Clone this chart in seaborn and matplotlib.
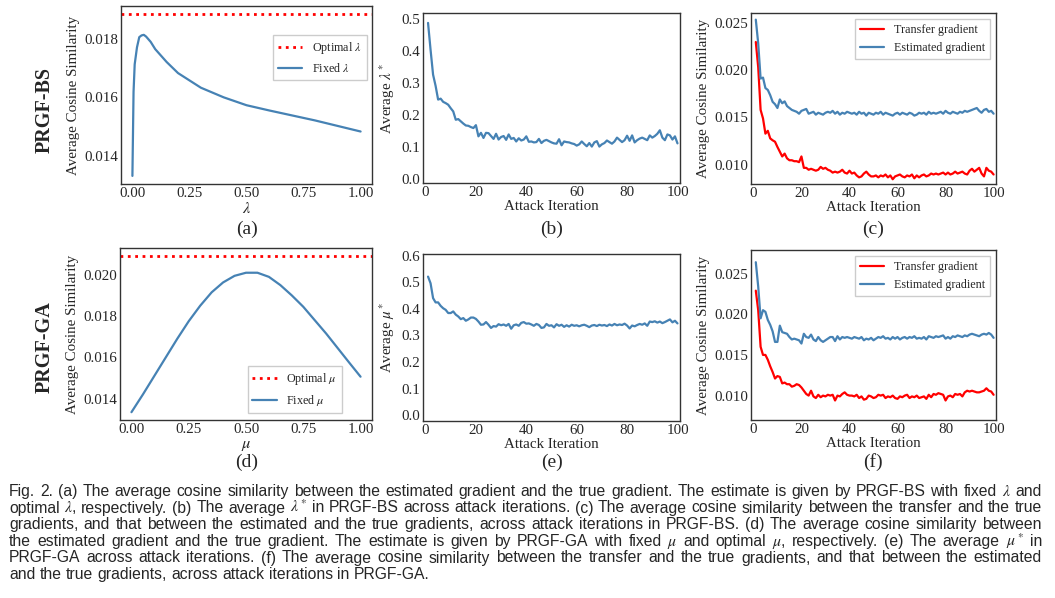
import numpy as np
import pandas as pd
import matplotlib
matplotlib.use("Agg")
import matplotlib.pyplot as plt
import seaborn as sns
from matplotlib.ticker import MultipleLocator, FormatStrFormatter

# ---- data ----
lam = [0.0, 0.005, 0.01, 0.02, 0.03, 0.04, 0.05, 0.06, 0.08, 0.1,
       0.15, 0.2, 0.3, 0.4, 0.5, 0.6, 0.7, 0.8, 0.9, 1.0]
sim_fixed_lam = [0.01331, 0.01619, 0.01713, 0.01771, 0.01806, 0.01812, 0.01814, 0.01808, 0.01790, 0.01765,
                 0.01721, 0.01683, 0.01633, 0.01600, 0.01573, 0.01555, 0.01538, 0.01521, 0.01502, 0.01483]
sim_opt_lam = 0.01885

mu = [0.0, 0.05, 0.1, 0.15, 0.2, 0.25, 0.3, 0.35, 0.4, 0.45, 0.5,
      0.55, 0.6, 0.65, 0.7, 0.75, 0.8, 0.85, 0.9, 0.95, 1.0]
sim_fixed_mu = [0.01334, 0.01420, 0.01510, 0.01600, 0.01690, 0.01775, 0.01850, 0.01915, 0.01963, 0.01995, 0.02010,
                0.02010, 0.01990, 0.01950, 0.01900, 0.01845, 0.01780, 0.01715, 0.01645, 0.01575, 0.01506]
sim_opt_mu = 0.02092

iters = list(range(1, 101))

lam_star = [0.487, 0.403, 0.325, 0.290, 0.247, 0.250, 0.240, 0.236, 0.231, 0.220,
            0.210, 0.184, 0.186, 0.179, 0.172, 0.166, 0.165, 0.161, 0.158, 0.167,
            0.132, 0.143, 0.127, 0.143, 0.142, 0.133, 0.124, 0.140, 0.122, 0.130,
            0.133, 0.121, 0.138, 0.124, 0.127, 0.116, 0.126, 0.119, 0.122, 0.132,
            0.115, 0.116, 0.113, 0.114, 0.124, 0.111, 0.118, 0.121, 0.117, 0.113,
            0.110, 0.109, 0.123, 0.104, 0.116, 0.114, 0.113, 0.110, 0.108, 0.103,
            0.107, 0.116, 0.108, 0.101, 0.111, 0.100, 0.113, 0.117, 0.100, 0.107,
            0.111, 0.119, 0.114, 0.109, 0.116, 0.128, 0.121, 0.114, 0.120, 0.134,
            0.118, 0.135, 0.113, 0.120, 0.125, 0.128, 0.124, 0.120, 0.135, 0.128,
            0.133, 0.140, 0.151, 0.128, 0.120, 0.138, 0.135, 0.122, 0.132, 0.110]

bs_transfer = [0.02295, 0.0203, 0.0158, 0.0149, 0.0133, 0.0136, 0.0128, 0.0126, 0.01245, 0.0119,
               0.0114, 0.0109, 0.0112, 0.0107, 0.0105, 0.0105, 0.0104, 0.0104, 0.0103, 0.0109,
               0.0097, 0.0097, 0.0095, 0.0096, 0.0095, 0.0094, 0.0095, 0.0098, 0.0096, 0.0097,
               0.0095, 0.0094, 0.0092, 0.0093, 0.0092, 0.0093, 0.0095, 0.0092, 0.0091, 0.0094,
               0.0091, 0.0092, 0.0089, 0.0087, 0.0088, 0.0091, 0.0093, 0.0090, 0.0088, 0.0088,
               0.0089, 0.0087, 0.0089, 0.0088, 0.0090, 0.0087, 0.0089, 0.0085, 0.0088, 0.0089,
               0.0090, 0.0088, 0.0087, 0.0089, 0.0088, 0.0090, 0.0086, 0.0089, 0.0087, 0.0089,
               0.0090, 0.0088, 0.0089, 0.0091, 0.0090, 0.0091, 0.0090, 0.0091, 0.0092, 0.0090,
               0.0092, 0.0090, 0.0091, 0.0093, 0.0091, 0.0092, 0.0093, 0.0091, 0.0090, 0.0094,
               0.0096, 0.0093, 0.0095, 0.0097, 0.0091, 0.0088, 0.0097, 0.0094, 0.0093, 0.0090]
bs_estimated = [0.0253, 0.0228, 0.0191, 0.0192, 0.0181, 0.0179, 0.01735, 0.01665, 0.0164, 0.0160,
                0.0169, 0.0165, 0.0167, 0.0162, 0.0160, 0.0158, 0.0157, 0.0156, 0.0154, 0.0157,
                0.0158, 0.0159, 0.0154, 0.0155, 0.0156, 0.0153, 0.0155, 0.0154, 0.0153, 0.0155,
                0.0156, 0.0155, 0.0157, 0.0154, 0.0156, 0.0153, 0.0155, 0.0154, 0.0156, 0.0155,
                0.0154, 0.0155, 0.0153, 0.0156, 0.0154, 0.0155, 0.0152, 0.0155, 0.0154, 0.0153,
                0.0155, 0.0154, 0.0156, 0.0153, 0.0155, 0.0154, 0.0153, 0.0152, 0.0154, 0.0155,
                0.0153, 0.0155, 0.0154, 0.0153, 0.0155, 0.0154, 0.0152, 0.0153, 0.0155, 0.0154,
                0.0155, 0.0153, 0.0156, 0.0154, 0.0155, 0.0154, 0.0155, 0.0156, 0.0154, 0.0157,
                0.0155, 0.0154, 0.0156, 0.0155, 0.0154, 0.0156, 0.0155, 0.0157, 0.0156, 0.0157,
                0.0158, 0.0159, 0.0160, 0.0157, 0.0155, 0.0158, 0.0159, 0.0156, 0.0157, 0.0154]

mu_star = [0.521, 0.496, 0.440, 0.424, 0.424, 0.411, 0.402, 0.396, 0.384, 0.384,
           0.390, 0.378, 0.371, 0.361, 0.365, 0.355, 0.360, 0.367, 0.367, 0.362,
           0.352, 0.340, 0.341, 0.350, 0.340, 0.328, 0.335, 0.333, 0.342, 0.338,
           0.341, 0.336, 0.343, 0.325, 0.338, 0.341, 0.336, 0.347, 0.350, 0.344,
           0.345, 0.341, 0.336, 0.343, 0.339, 0.328, 0.330, 0.343, 0.336, 0.338,
           0.330, 0.342, 0.336, 0.340, 0.332, 0.338, 0.333, 0.340, 0.336, 0.338,
           0.334, 0.338, 0.340, 0.336, 0.331, 0.337, 0.339, 0.335, 0.340, 0.337,
           0.339, 0.335, 0.341, 0.337, 0.343, 0.338, 0.341, 0.339, 0.344, 0.337,
           0.326, 0.337, 0.334, 0.339, 0.343, 0.340, 0.345, 0.336, 0.352, 0.350,
           0.353, 0.348, 0.352, 0.346, 0.350, 0.355, 0.360, 0.349, 0.355, 0.345]

ga_transfer = [0.0229, 0.0205, 0.0160, 0.0150, 0.0150, 0.0144, 0.0136, 0.0129, 0.0121, 0.0124,
               0.0123, 0.0115, 0.0116, 0.0114, 0.0114, 0.0111, 0.0112, 0.0114, 0.0113, 0.0110,
               0.0106, 0.0102, 0.0100, 0.0106, 0.0099, 0.0097, 0.0101, 0.0098, 0.0100, 0.0099,
               0.0101, 0.0100, 0.0101, 0.0094, 0.0100, 0.0099, 0.0102, 0.0104, 0.0101, 0.0100,
               0.0100, 0.0099, 0.0101, 0.0097, 0.0099, 0.0095, 0.0096, 0.0100, 0.0099, 0.0097,
               0.0098, 0.0101, 0.0100, 0.0101, 0.0097, 0.0099, 0.0098, 0.0100, 0.0097, 0.0096,
               0.0099, 0.0098, 0.0100, 0.0101, 0.0097, 0.0099, 0.0098, 0.0100, 0.0097, 0.0098,
               0.0099, 0.0096, 0.0101, 0.0098, 0.0102, 0.0101, 0.0103, 0.0102, 0.0101, 0.0094,
               0.0099, 0.0100, 0.0098, 0.0102, 0.0101, 0.0102, 0.0099, 0.0104, 0.0106, 0.0105,
               0.0106, 0.0105, 0.0104, 0.0104, 0.0105, 0.0106, 0.0109, 0.0106, 0.0105, 0.0101]
ga_estimated = [0.0264, 0.0234, 0.0195, 0.0205, 0.0203, 0.0193, 0.0187, 0.0179, 0.0166, 0.0166,
                0.0186, 0.0178, 0.0177, 0.0176, 0.0172, 0.0169, 0.0170, 0.0169, 0.0168, 0.0164,
                0.0176, 0.0172, 0.0171, 0.0175, 0.0169, 0.0167, 0.0172, 0.0168, 0.0166, 0.0168,
                0.0170, 0.0172, 0.0172, 0.0167, 0.0173, 0.0169, 0.0172, 0.0171, 0.0172, 0.0171,
                0.0170, 0.0172, 0.0171, 0.0170, 0.0172, 0.0168, 0.0170, 0.0169, 0.0171, 0.0168,
                0.0170, 0.0172, 0.0171, 0.0173, 0.0170, 0.0171, 0.0169, 0.0172, 0.0170, 0.0172,
                0.0169, 0.0171, 0.0172, 0.0170, 0.0172, 0.0171, 0.0173, 0.0170, 0.0171, 0.0170,
                0.0172, 0.0169, 0.0173, 0.0172, 0.0171, 0.0173, 0.0172, 0.0173, 0.0174, 0.0170,
                0.0172, 0.0170, 0.0173, 0.0172, 0.0174, 0.0173, 0.0172, 0.0174, 0.0173, 0.0175,
                0.0176, 0.0175, 0.0174, 0.0173, 0.0175, 0.0176, 0.0175, 0.0177, 0.0175, 0.0171]

caption_lines = [
    r"Fig. 2. (a) The average cosine similarity between the estimated gradient and the true gradient. The estimate is given by PRGF-BS with fixed $\lambda$ and",
    r"optimal $\lambda$, respectively. (b) The average $\lambda^*$ in PRGF-BS across attack iterations. (c) The average cosine similarity between the transfer and the true",
    r"gradients, and that between the estimated and the true gradients, across attack iterations in PRGF-BS. (d) The average cosine similarity between",
    r"the estimated gradient and the true gradient. The estimate is given by PRGF-GA with fixed $\mu$ and optimal $\mu$, respectively. (e) The average $\mu^*$ in",
    r"PRGF-GA across attack iterations. (f) The average cosine similarity between the transfer and the true gradients, and that between the estimated",
    r"and the true gradients, across attack iterations in PRGF-GA.",
]

# ---- style ----
BLUE = "#4682b4"
RED = "#ff0000"
W, H = 1055, 598
sns.set_style("white", {"axes.edgecolor": "#333333"})
plt.rcParams['font.family'] = ['Liberation Serif', 'DejaVu Serif']
plt.rcParams['mathtext.fontset'] = 'stix'
plt.rcParams['axes.linewidth'] = 1.0
FS = 10.8

fig = plt.figure(figsize=(W / 100, H / 100), dpi=100)


def add_ax(left, right, top, bottom):
    ax = fig.add_axes([left / W, 1 - bottom / H, (right - left) / W, (bottom - top) / H])
    ax.tick_params(labelsize=FS, pad=2, length=0)
    return ax


def legend(ax, **kw):
    return ax.legend(fontsize=8.7, fancybox=False, edgecolor="#cccccc", framealpha=1, **kw)


# (a)
ax = add_ax(121, 372, 6, 184)
opt = ax.axhline(sim_opt_lam, color=RED, ls=":", lw=2)
sns.lineplot(x=lam, y=sim_fixed_lam, color=BLUE, lw=1.6, ax=ax)
ax.xaxis.set_major_locator(MultipleLocator(0.25))
ax.xaxis.set_major_formatter(FormatStrFormatter('%.2f'))
ax.yaxis.set_major_locator(MultipleLocator(0.002))
ax.yaxis.set_major_formatter(FormatStrFormatter('%.3f'))
ax.set_xlabel(r"$\lambda$", fontsize=FS + 1, labelpad=1)
ax.set_ylabel("Average Cosine Similarity", fontsize=FS, labelpad=3)
legend(ax, handles=[opt, ax.lines[-1]], labels=[r"Optimal $\lambda$", r"Fixed $\lambda$"],
       loc="upper right", bbox_to_anchor=(0.98, 0.835), borderaxespad=0)

# (d)
ax = add_ax(120, 372, 248, 420)
opt = ax.axhline(sim_opt_mu, color=RED, ls=":", lw=2)
sns.lineplot(x=mu, y=sim_fixed_mu, color=BLUE, lw=1.6, ax=ax)
ax.xaxis.set_major_locator(MultipleLocator(0.25))
ax.xaxis.set_major_formatter(FormatStrFormatter('%.2f'))
ax.yaxis.set_major_locator(MultipleLocator(0.002))
ax.yaxis.set_major_formatter(FormatStrFormatter('%.3f'))
ax.set_xlabel(r"$\mu$", fontsize=FS + 1, labelpad=1)
ax.set_ylabel("Average Cosine Similarity", fontsize=FS, labelpad=3)
legend(ax, handles=[opt, ax.lines[-1]], labels=[r"Optimal $\mu$", r"Fixed $\mu$"],
       loc="lower right", bbox_to_anchor=(0.88, 0.04), borderaxespad=0)

# (b) and (e)
for (l, r, t, b), vals, ylab, ylim in [
        ((423, 680, 13, 183), lam_star, r"Average $\lambda^*$", (-0.014, 0.518)),
        ((423, 680, 254, 421), mu_star, r"Average $\mu^*$", (-0.022, 0.606))]:
    ax = add_ax(l, r, t, b)
    sns.lineplot(x=iters, y=vals, color=BLUE, lw=1.6, ax=ax)
    ax.set_xlim(-1, 101)
    ax.set_ylim(*ylim)
    ax.xaxis.set_major_locator(MultipleLocator(20))
    ax.yaxis.set_major_locator(MultipleLocator(0.1))
    ax.yaxis.set_major_formatter(FormatStrFormatter('%.1f'))
    ax.set_xlabel("Attack Iteration", fontsize=FS, labelpad=1)
    ax.set_ylabel(ylab, fontsize=FS, labelpad=3)

# (c) and (f)
for (l, r, t, b), tr, est, ylim in [
        ((751, 996, 13, 184), bs_transfer, bs_estimated, (0.0080, 0.0260)),
        ((751, 996, 250, 420), ga_transfer, ga_estimated, (0.0070, 0.0279))]:
    ax = add_ax(l, r, t, b)
    df = pd.DataFrame({"iter": iters, "Transfer gradient": tr, "Estimated gradient": est})
    df = df.melt(id_vars="iter", var_name="series", value_name="sim")
    sns.lineplot(data=df, x="iter", y="sim", hue="series",
                 hue_order=["Transfer gradient", "Estimated gradient"],
                 palette={"Transfer gradient": RED, "Estimated gradient": BLUE}, lw=1.6, ax=ax)
    ax.set_xlim(-1, 101)
    ax.set_ylim(*ylim)
    ax.xaxis.set_major_locator(MultipleLocator(20))
    ax.yaxis.set_major_locator(MultipleLocator(0.005))
    ax.yaxis.set_major_formatter(FormatStrFormatter('%.3f'))
    ax.set_xlabel("Attack Iteration", fontsize=FS, labelpad=1)
    ax.set_ylabel("Average Cosine Similarity", fontsize=FS, labelpad=3)
    legend(ax, title=None, loc="upper right")

# panel tags and row labels
for x, y, s in [(247, 229, "(a)"), (552, 229, "(b)"), (873, 229, "(c)"),
                (247, 462, "(d)"), (552, 462, "(e)"), (873, 462, "(f)")]:
    fig.text(x / W, 1 - y / H, s, fontsize=14, ha="center", va="center")
fig.text(45 / W, 1 - 110 / H, "PRGF-BS", fontsize=14.5, fontweight="bold", rotation=90,
         ha="center", va="center")
fig.text(45 / W, 1 - 347 / H, "PRGF-GA", fontsize=14.5, fontweight="bold", rotation=90,
         ha="center", va="center")

# justified caption: pick the size so the widest line fits with normal spaces
renderer = fig.canvas.get_renderer()
x0, x1 = 9, 1042
baselines = [496, 512.5, 529, 546, 562.5, 579]
CAP_FAMILY = ["Liberation Sans", "DejaVu Sans"]


def word_widths(words, size):
    out = []
    for w in words:
        t = fig.text(0, 0, w, fontsize=size, family=CAP_FAMILY)
        out.append(t.get_window_extent(renderer=renderer).width)
        t.remove()
    return out


probe = 10.0
natural = []
for line in caption_lines[:-1]:
    words = line.split(" ")
    natural.append(sum(word_widths(words, probe)) + (len(words) - 1) * probe * 0.278 * 100 / 72)
CFS = probe * (x1 - x0) / max(natural) * 0.998

for i, line in enumerate(caption_lines):
    words = line.split(" ")
    texts = [fig.text(0, 1 - baselines[i] / H, w, fontsize=CFS, va="baseline",
                      family=CAP_FAMILY) for w in words]
    widths = [t.get_window_extent(renderer=renderer).width for t in texts]
    if i < len(caption_lines) - 1:
        gap = (x1 - x0 - sum(widths)) / (len(words) - 1)
    else:
        gap = CFS * 0.278 * 100 / 72
    x = x0
    for t, w in zip(texts, widths):
        t.set_x(x / W)
        x += w + gap

fig.savefig("out.png", dpi=100)
